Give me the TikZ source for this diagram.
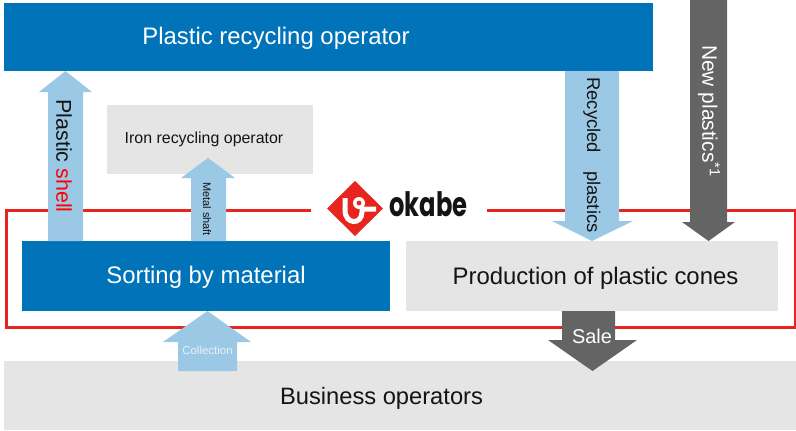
\documentclass[tikz,border=0pt]{standalone}
\usepackage{fontspec}
\setmainfont{Liberation Sans}
\newfontfamily\logofont{Poppins}
\definecolor{opblue}{RGB}{0,115,185}
\definecolor{arrowblue}{RGB}{155,200,228}
\definecolor{boxgrey}{RGB}{229,229,229}
\definecolor{arrowgrey}{RGB}{100,100,100}
\definecolor{framered}{RGB}{232,36,30}
\definecolor{inktext}{RGB}{20,20,20}
\tikzset{
  txt/.style={inner sep=0pt,outer sep=0pt,text=inktext},
  bluearrow/.style={fill=arrowblue},
  greyarrow/.style={fill=arrowgrey},
}
\begin{document}
\begin{tikzpicture}[x=1bp,y=-1bp]
\useasboundingbox (0,0) rectangle (796,430);
% boxes
\fill[boxgrey] (4,361) rectangle (796,430);
\fill[boxgrey] (107,105) rectangle (313,174);
\draw[framered,line width=3bp] (6,210) rectangle (795,327);
\fill[white] (311,200) rectangle (487,220);
\fill[opblue] (4,3) rectangle (653,71);
\fill[opblue] (22,241) rectangle (390,311);
\fill[boxgrey] (406,241) rectangle (778,311);
% block arrows
\fill[bluearrow] (65.5,71) -- (92,92) -- (83,92) -- (83,241) -- (48,241) -- (48,92) -- (39,92) -- cycle;
\fill[bluearrow] (208,158) -- (235,178) -- (226,178) -- (226,241) -- (191,241) -- (191,178) -- (181,178) -- cycle;
\fill[bluearrow] (565,71) -- (619,71) -- (619,221) -- (633,221) -- (592,241) -- (552,221) -- (565,221) -- cycle;
\fill[greyarrow] (690,0) -- (727,0) -- (727,222) -- (735,222) -- (708.5,241) -- (682,222) -- (690,222) -- cycle;
\fill[greyarrow] (562,311) -- (615,311) -- (615,340) -- (637,340) -- (592.5,371) -- (548,340) -- (562,340) -- cycle;
\fill[bluearrow] (207.5,311) -- (251,342) -- (237,342) -- (237,371) -- (178,371) -- (178,342) -- (163,342) -- cycle;
% logo
\fill[framered] (327,208.5) -- (355,181) -- (383,208.5) -- (355,236) -- cycle;
\draw[white,line width=5bp] (345,198) -- (345,210) .. controls (345,225) and (362,225) .. (362,212) -- (362,209) -- (376,209);
\fill[white] (359,203) circle[radius=6];
\fill[framered] (359,203) circle[radius=2.4];
\node[txt,xscale=0.9,yscale=1.25,font=\logofont\bfseries\fontsize{27}{27}\selectfont,text=inktext] (logo) at (428.5,204) {okabe};
% labels
\node[txt,text=white,font=\fontsize{24}{24}\selectfont] (top) at (276,38.5) {Plastic recycling operator};
\node[txt,font=\fontsize{16}{16}\selectfont] (iron) at (204,139) {Iron recycling operator};
\node[txt,text=white,font=\fontsize{24}{24}\selectfont] (sort) at (206,277) {Sorting by material};
\node[txt,font=\fontsize{24}{24}\selectfont] (prod) at (595.5,278) {Production of plastic cones};
\node[txt,font=\fontsize{23.8}{24}\selectfont] (biz) at (381.5,398.5) {Business operators};
\node[txt,rotate=-90,font=\fontsize{21.5}{22}\selectfont] (shell) at (64,156) {Plastic \textcolor{red}{shell}};
\node[txt,rotate=-90,font=\fontsize{11}{11}\selectfont] (metal) at (207,209) {Metal shaft};
\node[txt,rotate=-90,font=\fontsize{18.5}{19}\selectfont] (rec) at (592,155) {Recycled\hspace{0.7em} plastics};
\node[txt,rotate=-90,text=white,font=\fontsize{21}{21}\selectfont] (new) at (709,111) {New plastics\textsuperscript{*1}};
\node[txt,text=white,font=\fontsize{20}{20}\selectfont] (sale) at (592,336) {Sale};
\node[txt,text=white!75!arrowblue,font=\fontsize{11.5}{12}\selectfont] (coll) at (207.5,350) {Collection};
\end{tikzpicture}
\end{document}
